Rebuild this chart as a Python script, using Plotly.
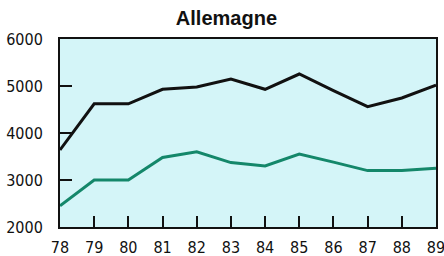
import plotly.graph_objects as go

years = [78, 79, 80, 81, 82, 83, 84, 85, 86, 87, 88, 89]
year_labels = ["78", "79", "80", "81", "82", "83", "84", "85", "86", "87", "88", "89"]
serie_noire = [3640, 4620, 4620, 4930, 4980, 5150, 4930, 5255, 4900, 4560, 4745, 5020]
serie_verte = [2450, 3000, 3000, 3480, 3600, 3370, 3300, 3550, 3380, 3200, 3200, 3250]
y_ticks = [2000, 3000, 4000, 5000, 6000]

fig = go.Figure()
fig.add_trace(go.Scatter(x=years, y=serie_verte, mode="lines",
                         line=dict(color="#14876a", width=3), cliponaxis=False))
fig.add_trace(go.Scatter(x=years, y=serie_noire, mode="lines",
                         line=dict(color="#111111", width=3), cliponaxis=False))

tick_font = dict(family="Liberation Sans Narrow, DejaVu Sans Condensed, Arial", size=16, color="#111111")

fig.update_layout(
    width=444, height=256,
    margin=dict(l=60, r=8, t=39, b=29, autoexpand=False),
    paper_bgcolor="white",
    plot_bgcolor="#d4f5f8",
    showlegend=False,
    title=dict(text="<b>Allemagne</b>", x=0.51, xanchor="center", y=0.93, yanchor="middle",
               xref="container", yref="container", automargin=False,
               font=dict(family="Liberation Sans, Arial", size=20, color="#111111")),
    xaxis=dict(range=[78, 89], tickvals=years, ticktext=year_labels, automargin=False,
               ticks="inside", ticklen=11, tickwidth=2, tickcolor="#111111",
               showline=True, linewidth=2, linecolor="#111111", mirror=True,
               showgrid=False, zeroline=False, tickfont=tick_font,
               ticklabelstandoff=5, ticklabeloverflow="allow"),
    yaxis=dict(range=[2000, 6000], tickvals=y_ticks, ticktext=[str(v) for v in y_ticks],
               automargin=False,
               ticks="inside", ticklen=12, tickwidth=2, tickcolor="#111111",
               showline=True, linewidth=2, linecolor="#111111", mirror=True,
               showgrid=False, zeroline=False, tickfont=tick_font,
               ticklabelstandoff=12, ticklabeloverflow="allow"),
)

fig.write_html("out.html", config={"displayModeBar": False},
               post_script="document.body.style.margin='0';document.body.style.overflow='hidden';")
